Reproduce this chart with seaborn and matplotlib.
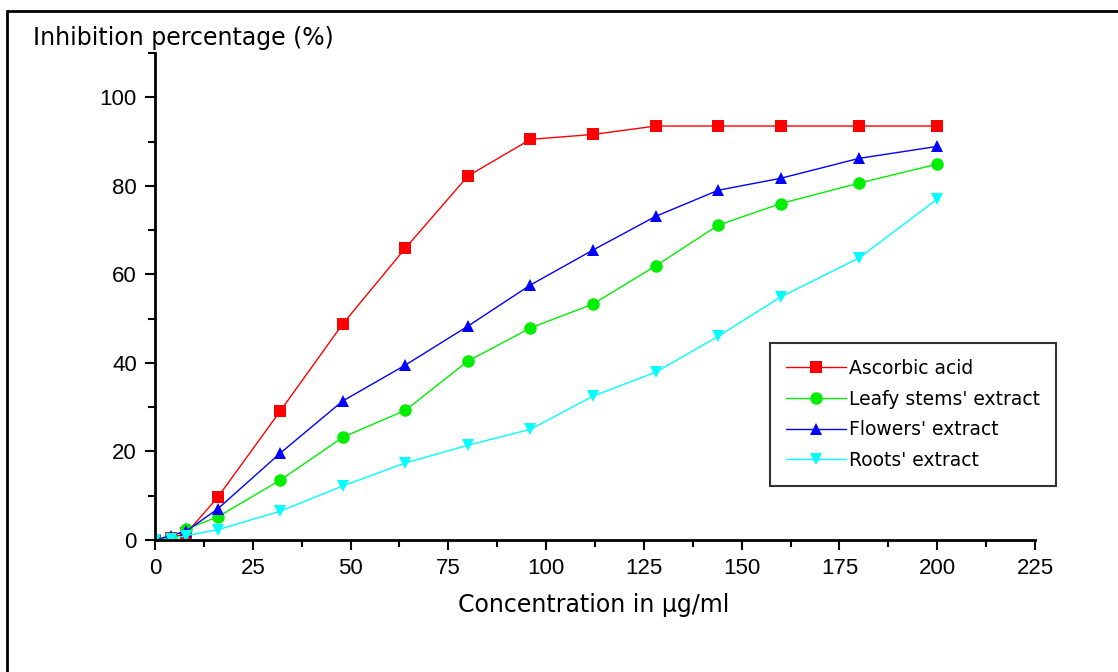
import matplotlib
matplotlib.use("Agg")
import matplotlib.pyplot as plt
import seaborn as sns
import pandas as pd
from matplotlib.ticker import MultipleLocator
from matplotlib.lines import Line2D

concentration = [0, 4, 8, 16, 32, 48, 64, 80, 96, 112, 128, 144, 160, 180, 200]
ascorbic = [0, 0.5, 1.5, 9.6, 29.1, 48.8, 65.9, 82.2, 90.5, 91.6, 93.5, 93.5, 93.5, 93.5, 93.5]
leafy = [0, 0.5, 2.5, 5.2, 13.5, 23.2, 29.3, 40.4, 47.9, 53.3, 61.9, 71.1, 76.0, 80.6, 84.9]
flowers = [0, 1.0, 2.0, 7.0, 19.6, 31.4, 39.5, 48.3, 57.6, 65.5, 73.1, 79.0, 81.7, 86.2, 88.9]
roots = [0, 0.2, 1.0, 2.3, 6.5, 12.2, 17.4, 21.4, 25.0, 32.5, 37.9, 46.0, 54.9, 63.7, 77.0]

series_names = ["Ascorbic acid", "Leafy stems' extract", "Flowers' extract", "Roots' extract"]
series_values = [ascorbic, leafy, flowers, roots]

rows = []
for name, vals in zip(series_names, series_values):
    for c, v in zip(concentration, vals):
        rows.append({"Concentration": c, "Inhibition": v, "Series": name})
df = pd.DataFrame(rows)

sns.set_style("ticks")
plt.rcParams['font.family'] = ['Liberation Sans', 'DejaVu Sans']
plt.rcParams['text.color'] = 'black'
plt.rcParams['xtick.color'] = 'black'
plt.rcParams['ytick.color'] = 'black'
plt.rcParams['axes.edgecolor'] = 'black'

fig = plt.figure(figsize=(11.18, 6.72), dpi=100)
ax = fig.add_axes([155/1118, 1-540/672, 880/1118, 487/672])

palette = {"Ascorbic acid": "#ff0000", "Leafy stems' extract": "#00ee00",
           "Flowers' extract": "#0000ff", "Roots' extract": "#00ffff"}
markers = {"Ascorbic acid": "s", "Leafy stems' extract": "o",
           "Flowers' extract": "^", "Roots' extract": "v"}

sns.lineplot(data=df, x="Concentration", y="Inhibition", hue="Series", style="Series",
             palette=palette, markers=markers, dashes=False, markersize=9,
             markeredgewidth=0, linewidth=1, ax=ax, hue_order=series_names,
             style_order=series_names)

ax.set_xlim(0, 225)
ax.set_ylim(0, 110)
ax.xaxis.set_major_locator(MultipleLocator(25))
ax.xaxis.set_minor_locator(MultipleLocator(12.5))
ax.yaxis.set_major_locator(MultipleLocator(20))
ax.yaxis.set_minor_locator(MultipleLocator(10))
ax.tick_params(axis='both', which='major', length=7, width=1.5, labelsize=16,
               direction='out', pad=6, colors='black')
ax.tick_params(axis='both', which='minor', length=5, width=1.5, direction='out', colors='black')
for lab in ax.get_xticklabels() + ax.get_yticklabels():
    lab.set_family(['Liberation Sans', 'DejaVu Sans'])
for s in ['left', 'bottom']:
    ax.spines[s].set_linewidth(2)
    ax.spines[s].set_color('black')
ax.spines['top'].set_visible(False)
ax.spines['right'].set_visible(False)
ax.set_xlabel("")
ax.set_ylabel("")

fig.text(594/1118, 1-605/672, "Concentration in µg/ml", ha='center', va='center',
         fontsize=17, family=['DejaVu Sans'], color='black')
fig.text(33/1118, 1-38/672, "Inhibition percentage (%)", ha='left', va='center',
         fontsize=17, family=['DejaVu Sans'], color='black')

leg = ax.legend(loc='upper left', bbox_to_anchor=((770-155)/880, (540-343)/487),
                frameon=True, fancybox=False, edgecolor='#333333', framealpha=1,
                prop={'family': 'DejaVu Sans', 'size': 13.5}, handlelength=3.2,
                borderpad=0.85, labelspacing=0.62, handletextpad=0.15, borderaxespad=0)
leg.get_frame().set_linewidth(1.5)
for t in leg.get_texts():
    t.set_color('black')

# partial border of the original image (top and left edges only)
fig.add_artist(Line2D([7/1118, 7/1118], [0, 1-11/672], transform=fig.transFigure,
                      color='black', linewidth=2))
fig.add_artist(Line2D([7/1118, 1], [1-11/672, 1-11/672], transform=fig.transFigure,
                      color='black', linewidth=2))

fig.savefig("out.png", dpi=100)
